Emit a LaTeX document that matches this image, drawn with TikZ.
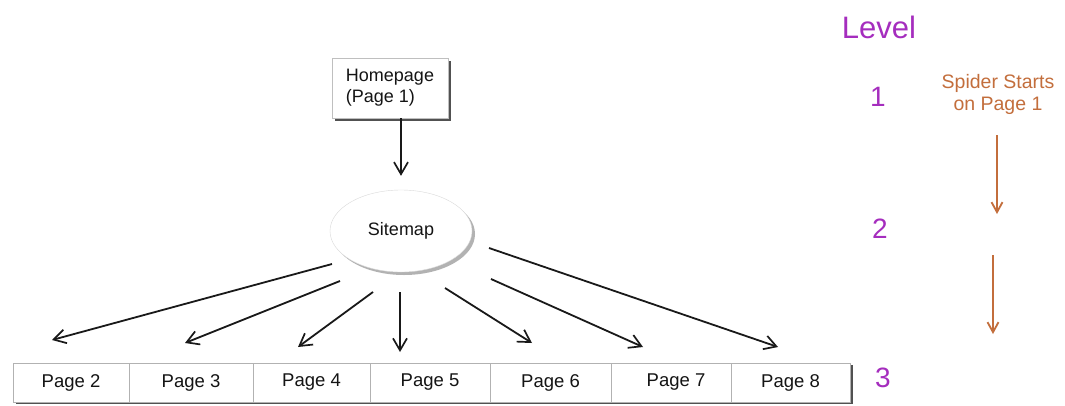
\documentclass[tikz,border=0pt]{standalone}
\usepackage{fontspec}
\setmainfont{Liberation Sans}
\usetikzlibrary{arrows.meta,shadows,shapes.geometric}
\definecolor{lvl}{RGB}{165,45,190}
\definecolor{spi}{RGB}{195,110,60}
\definecolor{txt}{RGB}{20,20,20}
\tikzset{
  pagebox/.style={draw=black!30, fill=white, minimum height=39pt, inner sep=0pt,
    font=\fontsize{18.5}{20}\selectfont, text=txt,
    drop shadow={shadow xshift=2.5pt, shadow yshift=-2pt, opacity=0.85, fill=black!80}},
  homebox/.style={draw=black!25, fill=white, minimum width=116pt, minimum height=60pt,
    inner sep=0pt, align=left, font=\fontsize{18}{21}\selectfont, text=txt,
    drop shadow={shadow xshift=3pt, shadow yshift=-3pt, opacity=0.85, fill=black!80}},
  mapnode/.style={ellipse, draw=black!15, fill=white, minimum width=142pt, minimum height=82pt,
    inner sep=0pt, font=\fontsize{18}{20}\selectfont, text=txt,
    drop shadow={shadow xshift=3pt, shadow yshift=-3pt, opacity=0.5, fill=black!60}},
  arr/.style={draw=black!90, line width=1.8pt, -{Straight Barb[length=12pt,width=14pt,line width=1.7pt]}},
  sarr/.style={draw=spi, line width=2pt, -{Straight Barb[length=10pt,width=11pt,line width=1.8pt]}},
  lvltext/.style={text=lvl, font=\fontsize{28}{30}\selectfont, inner sep=0pt},
}
\begin{document}
\begin{tikzpicture}[x=1pt,y=-1pt]
\useasboundingbox[fill=white] (0,0) rectangle (1065,405);

% homepage
\node[homebox] (home) at (390,88) {Homepage\\(Page 1)};
% sitemap
\node[mapnode] (sm) at (401,231) {Sitemap};
\draw[arr] (home.south -| sm.north) -- ([yshift=14pt]sm.north);

% pages
\node[pagebox, minimum width=116pt] (p2) at (71,382.5) {Page 2};
\node[pagebox, minimum width=124pt] (p3) at (191,382.5) {Page 3};
\node[pagebox, minimum width=117pt] (p4) at (311.5,382.5) {\raisebox{3pt}{Page 4}};
\node[pagebox, minimum width=120pt] (p5) at (430,382.5) {\raisebox{-1pt}{Page 5}};
\node[pagebox, minimum width=121pt] (p6) at (550.5,382.5) {\raisebox{3pt}{Page 6}};
\node[pagebox, minimum width=120pt] (p7) at (671,382.5) {\hspace*{10pt}Page 7};
\node[pagebox, minimum width=119pt] (p8) at (790.5,382.5) {Page 8};

% arrow start/end points
\coordinate (s2) at (332,264); \coordinate (e2) at (52,340);
\coordinate (s3) at (340,281); \coordinate (e3) at (185,343);
\coordinate (s4) at (373,292); \coordinate (e4) at (298,347);
\coordinate (s5) at (400,292); \coordinate (e5) at (400,352);
\coordinate (s6) at (445,288); \coordinate (e6) at (532,343);
\coordinate (s7) at (491,279); \coordinate (e7) at (643,347);
\coordinate (s8) at (489,248); \coordinate (e8) at (778,347);
\foreach \i in {2,...,8} { \draw[arr] (s\i) -- (e\i); }

% levels
\node[lvltext, font=\fontsize{31}{33}\selectfont] (lv) at (879,27) {Level};
\node[lvltext] (l1) at (878,97) {1};
\node[lvltext] (l2) at (880,229) {2};
\node[lvltext] (l3) at (883,378) {3};

% spider
\node[text=spi, align=center, font=\fontsize{19.5}{22}\selectfont, inner sep=0pt] (sp) at (998,94) {Spider Starts\\on Page 1};
\coordinate (a1s) at (997,135); \coordinate (a1e) at (997,214);
\coordinate (a2s) at (993,255); \coordinate (a2e) at (993,334);
\draw[sarr] (a1s) -- (a1e);
\draw[sarr] (a2s) -- (a2e);
\end{tikzpicture}
\end{document}
